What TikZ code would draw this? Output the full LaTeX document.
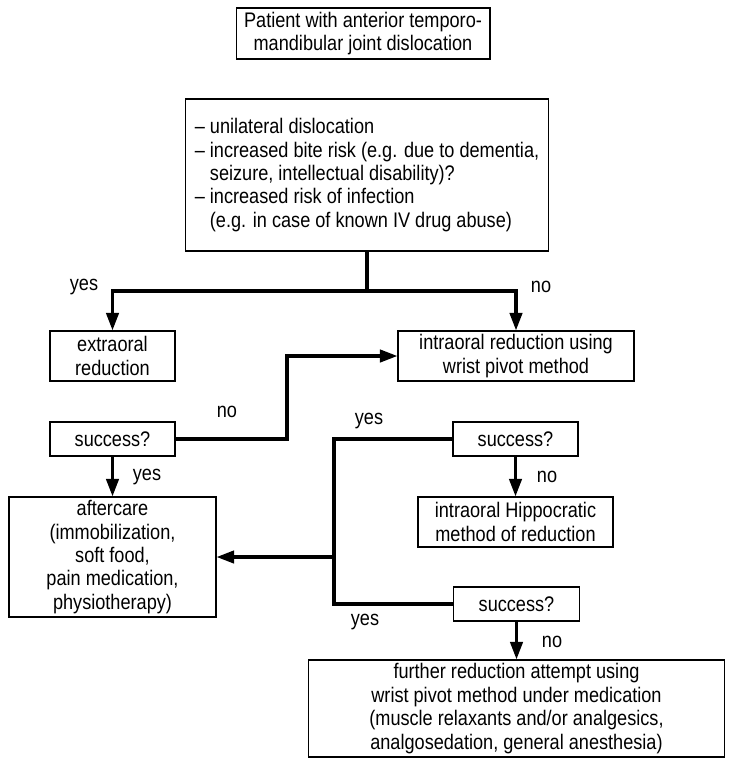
\documentclass[tikz,border=0pt]{standalone}
\usepackage{fontspec}
\setmainfont[FakeStretch=0.86]{Liberation Sans}
\usetikzlibrary{arrows.meta}

\begin{document}
\begin{tikzpicture}[x=0.02cm, y=-0.02cm, font=\fontsize{12}{13.3}\selectfont,
  box/.style={draw, line width=0.6pt, align=center, inner sep=0pt},
  flow/.style={line width=1.9pt, -{Triangle[length=10pt,width=7pt]}},
  bus/.style={line width=1.9pt}]
\useasboundingbox (0,0) rectangle (733,768);

\node[box, minimum width=5.08cm, minimum height=1.02cm] (patient) at (363,33.5) {Patient with anterior temporo-\\mandibular joint dislocation};
\node[box, align=left, minimum width=7.28cm, minimum height=3.04cm] (question) at (367,175) {-- unilateral dislocation\\
-- increased bite risk (e.g. due to dementia,\\
\hphantom{-- }seizure, intellectual disability)?\\
-- increased risk of infection\\
\hphantom{-- }(e.g. in case of known IV drug abuse)};

\node[box, minimum width=2.5cm, minimum height=1cm] (extraoral) at (112.5,356) {extraoral\\reduction};
\node[box, minimum width=4.72cm, minimum height=1cm] (intraoral) at (516,356) {intraoral reduction using\\wrist pivot method};

\node[box, minimum width=2.5cm, minimum height=0.68cm] (success1) at (112.5,439) {success?};
\node[box, minimum width=2.5cm, minimum height=0.68cm] (success2) at (515.5,439) {success?};
\node[box, minimum width=4.14cm, minimum height=2.4cm] (aftercare) at (112.5,557) {aftercare\\(immobilization,\\soft food,\\pain medication,\\physiotherapy)};
\node[box, minimum width=3.9cm, minimum height=1cm] (hippocratic) at (515.5,522) {intraoral Hippocratic\\method of reduction};
\node[box, minimum width=2.52cm, minimum height=0.68cm] (success3) at (516.5,604) {success?};
\node[box, minimum width=8.32cm, minimum height=1.94cm] (further) at (516.5,708.5) {further reduction attempt using\\wrist pivot method under medication\\(muscle relaxants and/or analgesics,\\analgosedation, general anesthesia)};

% branching below the question
\coordinate (split) at (367,291);
\draw[bus] (question.south) -- (split);
\draw[flow] (split) -| (extraoral.north);
\draw[flow] (split) -| (intraoral.north);
\node (yes1) at (84,287) {yes};
\node (no1) at (541,287) {no};

% first check
\coordinate (jog) at (287,400);
\draw[flow] (success1.east) -| (jog) |- (intraoral.west);
\draw[flow] (success1.south) -- (aftercare.north);
\node (no2) at (227,412) {no};
\node (yes2) at (147,477) {yes};

% second and third check
\coordinate (merge) at (334,557);
\draw[bus] (success2.west) -| (merge) |- (success3.west);
\draw[flow] (merge) -- (aftercare.east);
\draw[flow] (success2.south) -- (hippocratic.north);
\draw[flow] (success3.south) -- (further.north);
\node (yes3) at (369,421) {yes};
\node (no3) at (547,477) {no};
\node (yes4) at (365,622) {yes};
\node (no4) at (552,642) {no};
\end{tikzpicture}
\end{document}
